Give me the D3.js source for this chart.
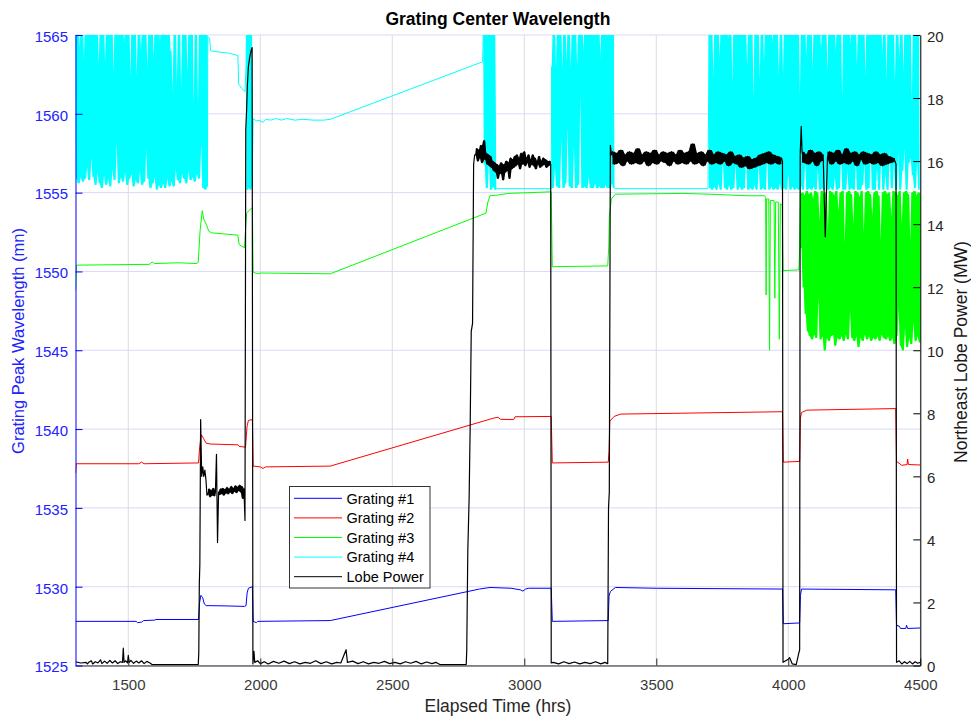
<!DOCTYPE html>
<html><head><meta charset="utf-8">
<script src="https://cdn.jsdelivr.net/npm/d3@7/dist/d3.min.js"></script>
<style>
body{margin:0;background:#fff}
svg{display:block}
text{font-family:"Liberation Sans",Arial,Helvetica,sans-serif}
</style>
</head><body>
<svg id="chart" width="971" height="717"></svg>
<script>
// ---------------- DATA ----------------
const xTicks = [1500, 2000, 2500, 3000, 3500, 4000, 4500];
const leftTicks = [1525, 1530, 1535, 1540, 1545, 1550, 1555, 1560, 1565];
const rightTicks = [0, 2, 4, 6, 8, 10, 12, 14, 16, 18, 20];
const seriesNames = ["Grating #1", "Grating #2", "Grating #3", "Grating #4", "Lobe Power"];

// Grating #1 (nm) [hrs, value]
const grating1 = [[1300,1527.8],[1530,1527.8],[1535,1527.72],[1550,1527.75],[1558,1527.85],[1600,1527.88],[1605,1527.92],[1766,1527.92],[1770,1529.0],[1775,1529.45],[1782,1529.3],[1788,1528.9],[1795,1528.8],[1870,1528.78],[1940,1528.75],[1946,1528.8],[1950,1529.6],[1955,1529.9],[1970,1530.0],[1973,1527.8],[1985,1527.72],[1990,1527.8],[2265,1527.85],[2830,1529.85],[2870,1529.95],[2950,1529.9],[2985,1529.8],[2995,1529.72],[3005,1529.85],[3015,1529.9],[3102,1529.9],[3106,1527.8],[3318,1527.85],[3321,1529.4],[3326,1529.7],[3345,1529.95],[3500,1529.9],[3978,1529.85],[3981,1527.65],[4043,1527.7],[4046,1529.45],[4050,1529.85],[4407,1529.8],[4410,1527.55],[4420,1527.5],[4425,1527.35],[4445,1527.35],[4448,1527.55],[4452,1527.35],[4500,1527.38]];

// Grating #2 (nm)
const grating2 = [[1300,1537.2],[1303,1537.8],[1540,1537.8],[1550,1537.9],[1560,1537.8],[1766,1537.85],[1770,1538.8],[1776,1539.65],[1785,1539.4],[1795,1539.1],[1812,1539.05],[1915,1539.0],[1920,1538.9],[1944,1538.85],[1950,1540.2],[1955,1540.55],[1970,1540.6],[1973,1537.65],[2000,1537.6],[2010,1537.5],[2020,1537.6],[2265,1537.65],[2885,1540.7],[2900,1540.75],[2910,1540.62],[2960,1540.6],[2965,1540.78],[3102,1540.8],[3106,1537.85],[3318,1537.9],[3321,1538.6],[3324,1540.5],[3340,1540.8],[3365,1540.95],[3978,1541.1],[3981,1537.9],[4043,1537.95],[4046,1540.7],[4050,1541.05],[4070,1541.2],[4407,1541.3],[4410,1537.95],[4430,1537.7],[4450,1537.75],[4452,1538.1],[4455,1537.75],[4500,1537.72]];

// Grating #3 (nm), steady part
const grating3Steady = [[1300,1548.8],[1304,1550.4],[1580,1550.45],[1590,1550.6],[1600,1550.5],[1690,1550.55],[1760,1550.5],[1765,1550.6],[1772,1552.6],[1780,1553.85],[1786,1553.3],[1795,1553.0],[1805,1552.55],[1815,1552.45],[1915,1552.3],[1920,1551.7],[1940,1551.5],[1944,1552.6],[1948,1553.7],[1960,1553.9],[1970,1554.05],[1973,1549.95],[1990,1549.85],[2000,1549.9],[2265,1549.85],[2855,1553.7],[2862,1554.4],[2870,1554.8],[2900,1554.85],[2940,1554.95],[3102,1555.05],[3106,1550.3],[3316,1550.35],[3320,1551.6],[3322,1553.5],[3330,1554.6],[3345,1554.9],[3600,1554.95],[3700,1554.9],[3850,1554.8],[3910,1554.8],[3914,1554.7],[3916,1548.5],[3918,1554.6],[3926,1554.6],[3929,1545.0],[3932,1554.5],[3946,1554.5],[3949,1548.3],[3952,1554.4],[3962,1554.4],[3966,1545.7],[3970,1554.3],[3977,1554.2],[3980,1550.05],[4040,1550.1],[4043,1551.5]];
// Grating #3 noisy samples from 4046 hrs, every 4 hrs
const grating3NoisyStart = 4046, grating3NoisyStep = 4;
const grating3Noisy = [1554.9,1551.5,1555.0,1549.0,1554.8,1547.3,1555.1,1546.2,1554.9,1545.9,1555.0,1545.7,1554.6,1546.0,1555.1,1545.8,1555.0,1548.4,1553.2,1545.7,1555.1,1545.9,1554.9,1545.0,1555.0,1545.8,1552.6,1545.6,1555.1,1545.9,1555.0,1546.0,1554.8,1545.3,1555.1,1545.8,1553.8,1545.7,1555.0,1545.9,1555.1,1545.6,1551.8,1546.0,1555.0,1545.7,1555.1,1547.5,1554.9,1545.8,1553.0,1545.6,1555.1,1545.9,1555.0,1545.2,1554.7,1545.8,1555.1,1545.6,1552.4,1546.0,1555.0,1545.7,1555.1,1545.9,1554.9,1545.6,1553.5,1545.8,1555.0,1545.7,1555.1,1545.9,1554.8,1545.6,1552.0,1546.0,1555.0,1545.8,1555.1,1545.7,1554.9,1545.9,1555.0,1545.6,1553.4,1545.8,1555.1,1545.4,1555.0,1545.9,1554.8,1547.6,1555.1,1545.3,1553.0,1545.0,1555.0,1546.4,1555.1,1545.2,1554.9,1545.8,1551.9,1545.4,1555.0,1546.8,1555.1,1545.6,1554.8,1545.9,1555.0,1545.5,1554.9];

// Grating #4 (nm): noisy bursts (every 4 hrs unless noted) and steady parts
const grating4BurstA_start = 1300;
const grating4BurstA = [1566,1555.9,1566,1555.6,1564.2,1556.0,1566,1555.7,1563.4,1555.9,1566,1556.6,1566,1555.8,1565.5,1557.2,1566,1556.0,1566,1555.5,1566,1556.3,1563.0,1555.6,1566,1555.3,1566,1556.1,1563.2,1555.5,1566,1555.9,1566,1555.4,1566,1556.5,1562.6,1555.8,1566,1558.2,1566,1555.6,1566,1556.0,1566,1555.7,1564.5,1556.3,1566,1555.5,1566,1555.9,1562.3,1556.2,1566,1555.4,1566,1555.8,1562.4,1555.6,1566,1556.4,1564.0,1555.5,1566,1555.7,1566,1557.8,1562.8,1555.9,1566,1555.3,1566,1555.6,1563.5,1556.0,1566,1555.2,1566,1555.5,1564.6,1555.3,1566,1555.6,1566,1555.3,1566,1555.9,1566,1555.4,1564.0,1555.7,1561.3,1555.4,1566,1556.5,1562.0,1555.8,1566,1555.6,1561.5,1556.2,1566,1555.9,1566,1555.6,1562.5,1556.4,1566,1555.8,1566,1556.0,1560.6,1555.7,1566,1556.2,1560.5,1555.9,1566,1558.0,1566,1555.3,1566,1555.2,1566,1555.4];
const grating4SteadyA = [[1801,1564.9],[1808,1564.8],[1812,1564.0],[1830,1563.95],[1880,1563.85],[1915,1563.7],[1918,1561.9],[1930,1561.6],[1942,1561.4],[1946,1563.0]];
const grating4BurstB_start = 1948, grating4BurstB_step = 3;
const grating4BurstB = [1566,1555.2,1566,1555.3,1566,1555.2,1566,1555.4];
const grating4SteadyB = [[1973,1559.7],[1985,1559.55],[1995,1559.6],[2010,1559.45],[2020,1559.65],[2040,1559.6],[2060,1559.7],[2080,1559.6],[2100,1559.7],[2130,1559.6],[2160,1559.65],[2200,1559.6],[2240,1559.6],[2265,1559.65],[2842,1563.3]];
const grating4BurstC_start = 2846;
const grating4BurstC = [1566,1556.8,1566,1555.3,1566,1557.0,1566,1555.2,1566,1555.4,1565.5,1555.2,1555.3];
const grating4SteadyC = [[2900,1555.25],[3102,1555.25]];
const grating4BurstD_start = 3104;
const grating4BurstD = [1563.0,1555.3,1566,1556.6,1562.9,1555.4,1566,1555.3,1566,1558.4,1562.8,1555.3,1566,1555.6,1563.2,1559.1,1566,1555.4,1562.9,1555.3,1566,1557.9,1566,1555.3,1563.0,1555.5,1566,1561.3,1566,1555.3,1564.0,1555.4,1566,1555.3,1566,1556.0,1566,1555.3,1565.0,1555.3,1566,1555.6,1566,1555.3,1566,1555.4,1563.5,1555.3,1566,1555.3,1566,1555.5,1566,1555.3,1566,1555.3,1566,1555.6,1566,1555.3];
const grating4SteadyD = [[3346,1555.25],[3696,1555.25]];
const grating4BurstE_start = 3700;
const grating4BurstE = [1566,1555.3,1566,1555.2,1562.3,1555.4,1566,1555.2,1566,1555.6,1563.5,1555.2,1566,1557.1,1566,1555.3,1566,1555.2,1564.8,1555.5,1566,1555.2,1561.9,1555.3,1566,1556.8,1566,1555.2,1566,1555.4,1565.2,1555.2,1566,1555.3,1566,1557.5,1563.0,1555.2,1566,1555.3,1566,1555.2,1560.9,1555.5,1566,1555.2,1566,1556.9,1562.2,1555.2,1566,1555.3,1563.2,1555.2,1566,1557.4,1566,1555.2,1566,1555.4,1564.5,1555.2,1566,1555.3,1566,1555.2,1562.3,1555.6,1566,1555.2,1562.5,1555.3,1566,1555.2,1566,1556.2,1566,1555.2,1565.0,1555.4,1566,1555.2,1566,1555.3,1566,1555.2,1561.2,1555.5,1566,1555.2,1566,1557.0,1563.6,1555.2,1566,1555.3,1566,1555.2,1562.8,1555.4,1566,1555.2,1566,1556.5,1566,1555.2,1564.0,1555.3,1566,1555.2,1566,1557.3,1562.6,1555.2,1566,1555.4,1566,1555.2,1566,1556.0,1563.9,1555.2,1566,1555.3,1566,1557.6,1560.9,1555.2,1566,1555.2,1566,1556.4,1566,1555.2,1564.4,1555.3,1566,1555.2,1566,1557.0,1563.1,1555.2,1566,1555.2,1566,1555.5,1566,1556.8,1562.4,1555.2,1566,1555.3,1566,1557.9,1566,1555.2,1565.0,1555.2,1566,1556.5,1566,1555.2,1566,1557.4,1563.8,1555.2,1566,1556.2,1562.2,1555.2,1566,1557.8,1566,1555.3,1566,1556.9,1562.0,1555.2,1566,1557.5,1563.5,1555.2,1566,1556.4,1562.6,1557.8,1566,1555.2,1566,1556.9,1566,1557.2,1560.8,1556.1,1566,1555.3,1566,1557.0,1566,1555.2];

// Lobe Power (MW)
const powerSteadyA = [[1300,0.12],[1320,0.08],[1340,0.1],[1345,0.05],[1350,0.1],[1360,0.15],[1365,0.05],[1375,0.12],[1385,0.08],[1395,0.18],[1400,0.06],[1410,0.14],[1420,0.07],[1430,0.16],[1440,0.08],[1450,0.15],[1460,0.06],[1470,0.12],[1478,0.1],[1481,0.55],[1484,0.1],[1490,0.15],[1497,0.08],[1500,0.32],[1503,0.1],[1510,0.16],[1520,0.07],[1530,0.14],[1540,0.08],[1550,0.15],[1560,0.06],[1570,0.13],[1582,0.08],[1590,0.03],[1765,0.03],[1767,0.4],[1769,2.6],[1771,3.2],[1774,7.8],[1778,6.0],[1782,6.3],[1786,6.0],[1790,6.2],[1794,5.9],[1798,5.4]];
const powerNoiseA1_start = 1802;
const powerNoiseA1 = [5.45,5.6,5.35,5.55,5.4,5.62,5.38,5.5];
const powerSpikeA = [[1834,6.7],[1838,3.9]];
const powerNoiseA2_start = 1842;
const powerNoiseA2 = [5.5,5.42,5.6,5.45,5.62,5.4,5.58,5.47,5.65,5.44,5.6,5.5,5.68,5.45,5.62,5.52,5.7,5.48,5.66,5.55,5.72,5.5,5.68,5.3,5.6];
const powerSteadyB = [[1942,4.6],[1945,17.0],[1948,17.6],[1951,18.4],[1955,19.0],[1960,19.3],[1965,19.5],[1969,19.6],[1972,0.05],[1976,0.45],[1979,0.1],[1990,0.15],[2000,0.06],[2015,0.12],[2030,0.05],[2050,0.13],[2070,0.07],[2090,0.14],[2110,0.06],[2130,0.12],[2150,0.05],[2170,0.1],[2190,0.07],[2210,0.15],[2230,0.06],[2250,0.12],[2270,0.05],[2290,0.1],[2305,0.08],[2325,0.5],[2330,0.1],[2350,0.14],[2370,0.06],[2390,0.12],[2410,0.05],[2430,0.1],[2450,0.07],[2470,0.13],[2490,0.06],[2510,0.1],[2530,0.05],[2550,0.12],[2570,0.07],[2590,0.13],[2610,0.05],[2630,0.11],[2650,0.06],[2665,0.1],[2680,0.03],[2780,0.03],[2782,0.48],[2786,3.65],[2791,5.3],[2795,7.6],[2799,10.6],[2804,10.85],[2808,15.9],[2812,16.2]];
const powerNoiseB_start = 2816;
const powerNoiseB = [16.2,16.4,16.0,16.35,16.1,16.5,15.95,16.3,16.65,16.05,16.25,15.9,16.2,15.85,16.15,15.8,16.0,15.7,15.95,15.65,15.9,15.45,15.85,15.6,15.95,15.7,15.4,15.9,15.65,16.0,15.7,15.95,15.45,16.1,15.75,16.05,15.8,16.15,15.85,16.2,15.9,16.1,15.75,16.25,15.9,16.0,16.3,15.85,16.1,15.95,16.2,15.8,16.05,15.9,16.2,15.85,16.1,15.75,16.0,15.9,16.15,15.8,16.0,15.85,16.1,15.9,16.05,15.8,16.0,15.85,16.0,15.9];
const powerSteadyC = [[3102,0.08],[3110,0.1],[3130,0.05],[3150,0.12],[3170,0.06],[3190,0.11],[3210,0.05],[3230,0.1],[3250,0.06],[3270,0.12],[3290,0.05],[3305,0.1],[3316,0.06],[3319,5.0],[3322,5.5],[3326,16.5],[3330,16.2]];
const powerNoiseC_start = 3334, powerNoiseC_step = 8;
const powerNoiseC = [16.3,15.9,16.25,15.95,16.35,15.85,16.2,16.0,16.3,15.9,16.25,15.95,16.4,15.9,16.2,16.0,16.3,15.85,16.25,15.95,16.35,15.9,16.2,16.0,16.3,15.95,16.25,15.85,16.3,16.0,16.2,15.9,16.35,15.95,16.25,15.9,16.3,16.0,16.55,15.9,16.25,15.95,16.3,15.85,16.2,16.0,16.35,15.9,16.2,15.95,16.3,15.9,16.25,16.0,16.2,15.85,16.3,15.95,16.15,15.9,16.2,15.8,16.1,15.85,16.15,15.75,16.05,15.8,16.1,15.85,16.2,15.9,16.25,15.95,16.3,15.9,16.2,15.95,16.15,15.9,16.1];
const powerSteadyD = [[3978,16.0],[3980,0.1],[3990,0.15],[4000,0.2],[4005,0.25],[4010,0.15],[4015,0.05],[4030,0.03],[4040,0.4],[4043,0.5],[4045,16.2],[4049,17.1]];
const powerNoiseD1_start = 4052, powerNoiseD_step = 8;
const powerNoiseD1 = [16.3,15.95,16.2,15.9,16.35,16.0,16.25,15.85,16.3,16.0,16.2];
const powerSpikeD = [[4140,13.6]];
const powerNoiseD2_start = 4148;
const powerNoiseD2 = [16.1,16.3,15.9,16.25,16.0,16.35,15.9,16.2,15.95,16.4,15.9,16.25,16.0,16.3,15.85,16.2,16.05,16.3,15.9,16.25,15.95,16.2,15.9,16.3,15.95,16.2,15.85,16.25,15.9,16.15,15.95,16.1,16.0];
const powerSteadyE = [[4408,15.9],[4410,0.1],[4420,0.15],[4430,0.05],[4440,0.12],[4450,0.06],[4460,0.13],[4470,0.05],[4480,0.12],[4490,0.07],[4500,0.1]];

// ---------------- BUILD ----------------
const sampled = (start, step, vals) => vals.map((v, i) => [start + i * step, v]);
const g3Bursts = [sampled(grating3NoisyStart, grating3NoisyStep, grating3Noisy)];
const g4Bursts = [
  sampled(grating4BurstA_start, 4, grating4BurstA),
  sampled(grating4BurstB_start, grating4BurstB_step, grating4BurstB),
  sampled(grating4BurstC_start, 4, grating4BurstC),
  sampled(grating4BurstD_start, 4, grating4BurstD),
  sampled(grating4BurstE_start, 4, grating4BurstE)];
const pwBursts = [
  sampled(powerNoiseA1_start, 4, powerNoiseA1),
  sampled(powerNoiseA2_start, 4, powerNoiseA2),
  sampled(powerNoiseB_start, 4, powerNoiseB),
  sampled(powerNoiseC_start, powerNoiseC_step, powerNoiseC),
  sampled(powerNoiseD1_start, powerNoiseD_step, powerNoiseD1),
  sampled(powerNoiseD2_start, powerNoiseD_step, powerNoiseD2)];

const g1 = grating1;
const g2 = grating2;
const g3 = [].concat(grating3Steady, g3Bursts[0], [[4500, 1554.9]]);
const g4 = [].concat(g4Bursts[0], grating4SteadyA, g4Bursts[1], grating4SteadyB,
  g4Bursts[2], grating4SteadyC, g4Bursts[3], grating4SteadyD, g4Bursts[4]);
const pw = [].concat(powerSteadyA, pwBursts[0], powerSpikeA, pwBursts[1], powerSteadyB, pwBursts[2],
  powerSteadyC, pwBursts[3], powerSteadyD, pwBursts[4], powerSpikeD, pwBursts[5], powerSteadyE);

// local min/max envelope of a burst (neighbouring samples), used to shade dense traces
const envelope = pts => pts.map((p, i) => {
  const w = pts.slice(Math.max(0, i - 1), i + 2).map(q => q[1]);
  return [p[0], d3.min(w), d3.max(w)];
});

// ---------------- DRAW ----------------
const L = 75.5, R = 920.3, T = 35, B = 665.5;
const svg = d3.select("#chart");
const x = d3.scaleLinear().domain([1300, 4500]).range([L, R]);
const yL = d3.scaleLinear().domain([1525, 1565]).range([B, T]);
const yR = d3.scaleLinear().domain([0, 20]).range([B, T]);

const colors = ["#0000ff", "#ff0000", "#00ff00", "#00ffff", "#000000"];
const blueText = "#2222ff";
const FONT = '"Liberation Sans", Arial, sans-serif';

// grid
const grid = svg.append("g");
grid.selectAll("line.v").data(xTicks).join("line")
  .attr("x1", d => x(d)).attr("x2", d => x(d)).attr("y1", T).attr("y2", B)
  .attr("stroke", "#dcdcdc").attr("stroke-width", 1);
grid.selectAll("line.h").data(leftTicks).join("line")
  .attr("x1", L).attr("x2", R).attr("y1", d => yL(d)).attr("y2", d => yL(d))
  .attr("stroke", "#d9d9fb").attr("stroke-width", 1);

// clip
svg.append("clipPath").attr("id", "clip").append("rect")
  .attr("x", L).attr("y", T).attr("width", R - L).attr("height", B - T);

const lineL = d3.line().x(d => x(d[0])).y(d => yL(d[1]));
const lineR = d3.line().x(d => x(d[0])).y(d => yR(d[1]));
const areaL = d3.area().x(d => x(d[0])).y0(d => yL(d[1])).y1(d => yL(d[2]));
const areaR = d3.area().x(d => x(d[0])).y0(d => yR(d[1])).y1(d => yR(d[2]));
const plot = svg.append("g").attr("clip-path", "url(#clip)");

function drawSeries(data, bursts, line, area, color, width) {
  bursts.forEach(b => plot.append("path").datum(envelope(b)).attr("d", area)
    .attr("fill", color).attr("stroke", "none"));
  plot.append("path").datum(data).attr("d", line)
    .attr("fill", "none").attr("stroke", color).attr("stroke-width", width)
    .attr("stroke-linejoin", "round");
}
drawSeries(g1, [], lineL, areaL, colors[0], 1);
drawSeries(g2, [], lineL, areaL, colors[1], 1);
drawSeries(g3, g3Bursts, lineL, areaL, colors[2], 1);
drawSeries(g4, g4Bursts, lineL, areaL, colors[3], 1);
drawSeries(pw, pwBursts, lineR, areaR, colors[4], 1.2);

// axes
const fontTick = "15px";
const ax = svg.append("g").attr("transform", `translate(0,${B})`)
  .call(d3.axisBottom(x).tickValues(xTicks).tickFormat(d3.format("d")).tickSize(-7).tickSizeOuter(0).tickPadding(13.8));
ax.select(".domain").attr("stroke", "#262626");
ax.selectAll(".tick line").attr("stroke", "#262626");
ax.selectAll("text").attr("fill", "#3a3a3a").style("font-size", fontTick).style("font-family", FONT);

const ayL = svg.append("g").attr("transform", `translate(${L},0)`)
  .call(d3.axisLeft(yL).tickValues(leftTicks).tickFormat(d3.format("d")).tickSize(-7).tickSizeOuter(0).tickPadding(7.5));
ayL.select(".domain").attr("stroke", "#0000ff");
ayL.selectAll(".tick line").attr("stroke", "#0000ff");
ayL.selectAll("text").attr("fill", blueText).attr("dy", "0.42em").style("font-size", fontTick).style("font-family", FONT);

const ayR = svg.append("g").attr("transform", `translate(${R},0)`)
  .call(d3.axisRight(yR).tickValues(rightTicks).tickFormat(d3.format("d")).tickSize(-7).tickSizeOuter(0).tickPadding(6.7));
ayR.select(".domain").attr("stroke", "#000");
ayR.selectAll(".tick line").attr("stroke", "#000");
ayR.selectAll("text").attr("fill", "#262626").attr("dy", "0.42em").style("font-size", fontTick).style("font-family", FONT);

// titles
svg.append("text").attr("x", (L + R) / 2).attr("y", 25).attr("text-anchor", "middle")
  .style("font-size", "17.5px").style("font-weight", "bold").attr("fill", "#000")
  .text("Grating Center Wavelength");
svg.append("text").attr("x", (L + R) / 2).attr("y", 712).attr("text-anchor", "middle")
  .style("font-size", "17.5px").attr("fill", "#262626")
  .text("Elapsed Time (hrs)");
svg.append("text").attr("transform", "translate(24,341) rotate(-90)").attr("text-anchor", "middle")
  .style("font-size", "16.5px").attr("fill", blueText)
  .text("Grating Peak Wavelength (mn)");
svg.append("text").attr("transform", "translate(967,352) rotate(-90)").attr("text-anchor", "middle")
  .style("font-size", "17.5px").attr("fill", "#1a1a1a")
  .text("Northeast Lobe Power (MW)");

// legend
const lg = svg.append("g");
lg.append("rect").attr("x", 289.5).attr("y", 486.5).attr("width", 140.5).attr("height", 101.5)
  .attr("fill", "#fff").attr("stroke", "#333").attr("stroke-width", 1);
const rows = lg.selectAll("g.row").data(seriesNames).join("g")
  .attr("transform", (d, i) => `translate(0,${498.3 + i * 19.6})`);
rows.append("line").attr("x1", 294).attr("x2", 342).attr("y1", 0).attr("y2", 0)
  .attr("stroke", (d, i) => colors[i]).attr("stroke-width", 1);
rows.append("text").attr("x", 346.5).attr("dy", "0.36em").style("font-size", "14.5px")
  .attr("fill", "#000").text(d => d);
</script>
</body></html>
